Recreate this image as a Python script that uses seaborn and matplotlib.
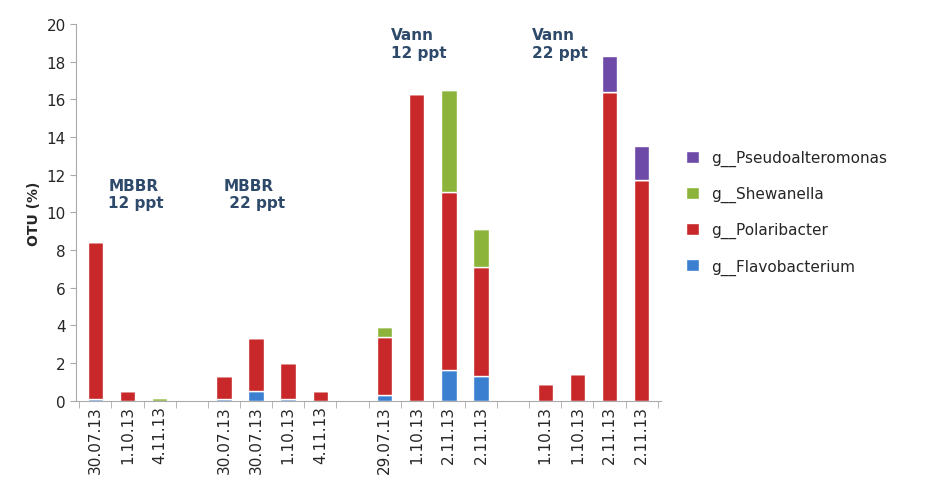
import numpy as np
import pandas as pd
import matplotlib.pyplot as plt
import seaborn as sns

labels = ['30.07.13','1.10.13','4.11.13','','30.07.13','30.07.13','1.10.13','4.11.13','',
          '29.07.13','1.10.13','2.11.13','2.11.13','','1.10.13','1.10.13','2.11.13','2.11.13']
flavo  = [0.1,0,0, 0, 0.1,0.5,0.1,0, 0, 0.3,0,1.6,1.3, 0, 0,0,0,0]
polar  = [8.3,0.5,0, 0, 1.2,2.8,1.9,0.5, 0, 3.1,16.3,9.5,5.8, 0, 0.9,1.4,16.4,11.7]
shew   = [0,0,0.12, 0, 0,0,0,0, 0, 0.5,0,5.4,2.0, 0, 0,0,0,0]
pseudo = [0,0,0, 0, 0,0,0,0, 0, 0,0,0,0, 0, 0,0,1.9,1.8]

sns.set_style("white")
fig, ax = plt.subplots(figsize=(9.51,5.02), dpi=100)
fig.subplots_adjust(left=0.08, right=0.695, top=0.95, bottom=0.2)

x = np.arange(len(labels))
series = [('g__Flavobacterium', flavo, '#3a7fd0'), ('g__Polaribacter', polar, '#c8282a'),
          ('g__Shewanella', shew, '#8db43a'), ('g__Pseudoalteromonas', pseudo, '#6e4aa8')]
bottom = np.zeros(len(labels))
for name, vals, col in series:
    ax.bar(x, vals, width=0.48, bottom=bottom, color=col, label=name)
    bottom += np.array(vals)

ax.set_ylim(0, 20)
ax.set_yticks(range(0, 21, 2))
ax.set_xlim(-0.6, len(labels)-0.4)
ax.set_xticks(x)
ax.set_xticklabels(labels, rotation=90, fontsize=11)
ax.set_xticks(np.arange(-0.5, len(labels), 1), minor=True)
ax.tick_params(axis='x', which='major', length=0)
ax.tick_params(axis='x', which='minor', length=5, color='#aaaaaa', bottom=True)
ax.tick_params(axis='y', labelsize=11, length=4, color='#aaaaaa', left=True)
ax.set_ylabel('OTU (%)', fontsize=10, fontweight='bold')
for s in ['top','right']:
    ax.spines[s].set_visible(False)
ax.spines['left'].set_color('#aaaaaa')
ax.spines['bottom'].set_color('#aaaaaa')

for tx, ty, t in [(0.4, 10.1, 'MBBR\n12 ppt'), (4.0, 10.1, 'MBBR\n 22 ppt'),
                  (9.2, 18.1, 'Vann\n12 ppt'), (13.6, 18.1, 'Vann\n22 ppt')]:
    ax.text(tx, ty, t, fontsize=11, fontweight='bold', color='#2e4a6a', va='bottom')

h, l = ax.get_legend_handles_labels()
ax.legend(h[::-1], l[::-1], loc='center left', bbox_to_anchor=(1.02, 0.5), frameon=False,
          fontsize=11, handlelength=0.8, handleheight=0.8, labelspacing=1.3)
fig.savefig('out.png')
